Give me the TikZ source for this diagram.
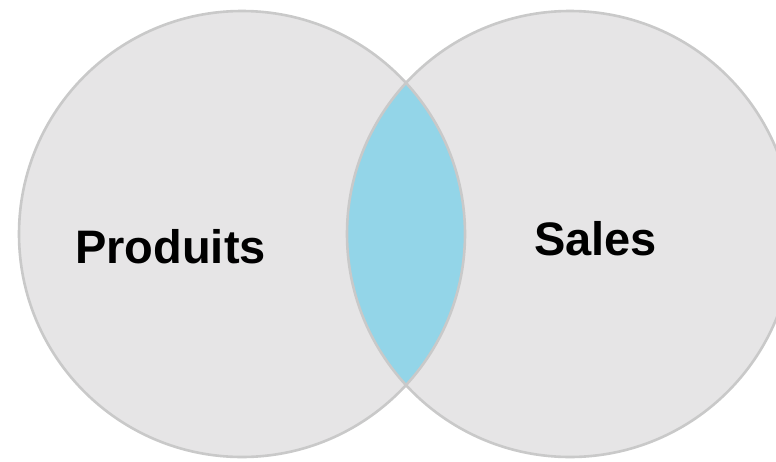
\documentclass[tikz,border=0pt]{standalone}
\usepackage{fontspec}
\setmainfont{Liberation Sans}
\definecolor{ringgray}{HTML}{C9C9C9}
\definecolor{setfill}{HTML}{E6E5E6}
\definecolor{lensblue}{HTML}{93D5E8}
\begin{document}
\begin{tikzpicture}[x=1pt,y=-1pt,
  setlabel/.style={font=\fontsize{47}{50}\selectfont\bfseries, text=black, anchor=base, inner sep=0pt},
  ring/.style={draw=ringgray, line width=2.6pt}]
\useasboundingbox (0,0) rectangle (776,461);
\clip (0,0) rectangle (776,461);
\fill[white] (0,0) rectangle (776,461);
\coordinate (cL) at (242,234);
\coordinate (cR) at (570,234);
\fill[setfill] (cL) circle[radius=223pt];
\fill[setfill] (cR) circle[radius=223pt];
\begin{scope}
  \clip (cL) circle[radius=223pt];
  \fill[lensblue] (cR) circle[radius=223pt];
\end{scope}
\draw[ring] (cL) circle[radius=223pt];
\draw[ring] (cR) circle[radius=223pt];
\node[setlabel] (produits) at (170.5,263) {Produits};
\node[setlabel] (sales) at (595.5,255) {Sales};
\end{tikzpicture}
\end{document}
